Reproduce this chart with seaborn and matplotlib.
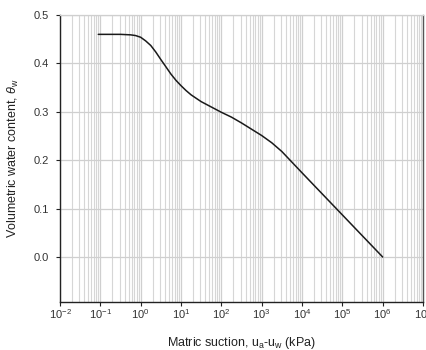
import matplotlib
matplotlib.use("Agg")
import matplotlib.pyplot as plt
import matplotlib.ticker as mticker
import seaborn as sns
import pandas as pd
import numpy as np

# Data (matric suction in kPa, volumetric water content)
suction = [0.089, 0.316, 0.562, 0.75, 1.0, 1.33, 1.78, 2.37, 3.16, 4.22, 5.62,
           7.5, 10.0, 13.3, 17.8, 31.6, 56.2, 100, 178, 316, 562, 1000,
           1780, 3160, 5620, 10000, 100000, 1000000]
theta = [0.460, 0.460, 0.459, 0.4575, 0.454, 0.4465, 0.437, 0.4235, 0.408,
         0.393, 0.378, 0.365, 0.354, 0.344, 0.335, 0.321, 0.310, 0.299,
         0.289, 0.277, 0.264, 0.251, 0.236, 0.218, 0.196, 0.174, 0.087, 0.000]

xtick_vals = [1e-2, 1e-1, 1e0, 1e1, 1e2, 1e3, 1e4, 1e5, 1e6, 1e7]
xtick_labels = [r"10$^{-2}$", r"10$^{-1}$", r"10$^{0}$", r"10$^{1}$", r"10$^{2}$",
                r"10$^{3}$", r"10$^{4}$", r"10$^{5}$", r"10$^{6}$", r"10$^{7}$"]
ytick_vals = [0.0, 0.1, 0.2, 0.3, 0.4, 0.5]
ytick_labels = ["0.0", "0.1", "0.2", "0.3", "0.4", "0.5"]

df = pd.DataFrame({"suction": suction, "theta": theta})

sns.set_theme(style="white")
plt.rcParams["font.family"] = ["Liberation Sans", "DejaVu Sans"]
plt.rcParams["mathtext.fontset"] = "custom"
plt.rcParams["mathtext.rm"] = "Liberation Sans"
plt.rcParams["mathtext.it"] = "Liberation Sans:italic"

fig = plt.figure(figsize=(4.27, 3.5), dpi=100)
ax = fig.add_axes([60 / 427, 48 / 350, 363 / 427, 287 / 350])

sns.lineplot(data=df, x="suction", y="theta", ax=ax, color="#1a1a1a",
             linewidth=1.1, zorder=3)
for ln in ax.get_lines():
    ln.set_solid_joinstyle("round")

ax.set_xscale("log")
ax.set_xlim(1e-2, 1e7)
ax.set_ylim(-0.093, 0.5)

ax.xaxis.set_minor_locator(mticker.LogLocator(base=10, subs=np.arange(2, 10), numticks=20))
ax.set_xticks(xtick_vals)
ax.set_xticklabels(xtick_labels)
ax.set_yticks(ytick_vals)
ax.set_yticklabels(ytick_labels)

ax.grid(True, which="major", axis="both", color="#cfcfcf", linewidth=0.9)
ax.grid(True, which="minor", axis="x", color="#d6d6d6", linewidth=0.8)

ax.tick_params(axis="both", which="major", direction="out", length=3, width=0.8,
               color="#222222", labelsize=8, labelcolor="#333333",
               bottom=True, left=True)
ax.tick_params(axis="y", which="major", pad=5)
ax.tick_params(axis="x", which="major", pad=1)
ax.tick_params(axis="x", which="minor", bottom=False, length=0)

for side in ["left", "bottom"]:
    ax.spines[side].set_color("#222222")
    ax.spines[side].set_linewidth(1.0)
ax.spines["right"].set_color("#555555")
ax.spines["right"].set_linewidth(1.0)
ax.spines["top"].set_color("#cfcfcf")
ax.spines["top"].set_linewidth(0.9)

ax.set_xlabel(r"Matric suction, u$_{\mathrm{a}}$-u$_{\mathrm{w}}$ (kPa)",
              fontsize=9, color="#222222", labelpad=10)
ax.set_ylabel(r"Volumetric water content, $\theta_{\mathrm{w}}$",
              fontsize=9, color="#222222", labelpad=9)

fig.savefig("out.png", dpi=100)
